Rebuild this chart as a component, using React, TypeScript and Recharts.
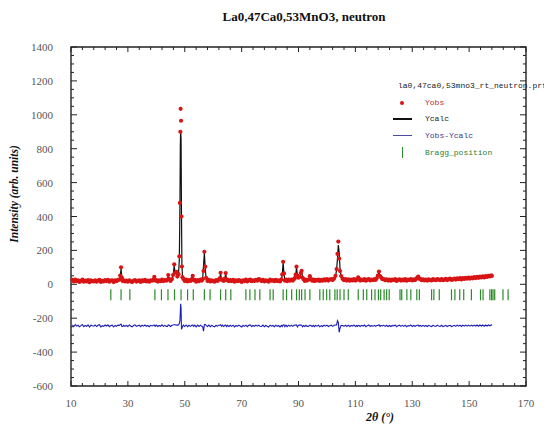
import { ComposedChart, Line, Scatter, XAxis, YAxis, ReferenceArea } from 'recharts';

// 2θ scan points (deg) with observed / calculated neutron counts
const twoTheta = [
  10.5, 11, 11.5, 12, 12.5, 13, 13.5, 14, 14.5, 15,
  15.5, 16, 16.5, 17, 17.5, 18, 18.5, 19, 19.5, 20,
  20.5, 21, 21.5, 22, 22.5, 23, 23.5, 24, 24.5, 25,
  25.5, 26, 26.5, 27, 27.3, 27.6, 27.9, 28.2, 28.5, 29,
  29.5, 30, 30.5, 31, 31.5, 32, 32.5, 33, 33.5, 34,
  34.5, 35, 35.5, 36, 36.5, 37, 37.5, 38, 38.5, 39,
  39.3, 39.6, 40, 40.5, 41, 41.5, 42, 42.5, 43, 43.5,
  43.9, 44.2, 44.5, 45, 45.5, 45.9, 46.3, 46.6, 47.1, 47.4,
  47.8, 48.1, 48.3, 48.45, 48.55, 48.7, 48.85, 49, 49.2, 49.5,
  50, 50.5, 51, 51.5, 52, 52.5, 52.8, 53.1, 53.5, 54,
  54.5, 55, 55.5, 56, 56.3, 56.6, 56.9, 57.2, 57.5, 58,
  58.5, 59, 59.5, 60, 60.5, 61, 61.5, 62, 62.3, 62.6,
  62.9, 63.3, 63.7, 64.1, 64.4, 64.7, 65, 65.5, 66, 66.5,
  67, 67.5, 68, 68.5, 69, 69.5, 70, 70.5, 71, 71.5,
  72, 72.5, 73, 73.5, 74, 74.5, 75, 75.5, 76, 76.4,
  77, 77.5, 78, 78.5, 79, 79.5, 80, 80.5, 81, 81.5,
  82, 82.5, 83, 83.5, 84, 84.3, 84.6, 84.9, 85.2, 85.6,
  86, 86.5, 87, 87.5, 88, 88.4, 88.7, 89, 89.3, 89.6,
  90, 90.4, 90.8, 91.1, 91.4, 91.8, 92.2, 92.6, 93, 93.6,
  94, 94.4, 94.8, 95.2, 95.6, 96, 96.5, 97, 97.5, 98,
  98.5, 99, 99.5, 100, 100.5, 101, 101.5, 102, 102.5, 103,
  103.4, 103.7, 104, 104.3, 104.6, 105, 105.5, 106, 106.5, 107,
  107.5, 108, 108.5, 109, 109.5, 110, 110.4, 110.7, 111, 111.3,
  111.7, 112.2, 112.7, 113.2, 113.7, 114.2, 114.7, 115.2, 115.7, 116.2,
  116.7, 117.1, 117.5, 117.9, 118.3, 118.7, 119.1, 119.5, 120, 120.5,
  121, 121.5, 122, 122.5, 123, 123.5, 124, 124.5, 125, 125.5,
  126, 126.5, 127, 127.5, 128, 128.5, 129, 129.5, 130, 130.5,
  131, 131.5, 131.8, 132.1, 132.4, 132.8, 133.3, 133.8, 134.3, 134.8,
  135.3, 135.8, 136.3, 136.8, 137.3, 137.8, 138.3, 138.8, 139.3, 139.8,
  140.3, 140.8, 141.3, 141.8, 142.3, 142.8, 143.3, 143.8, 144.3, 144.8,
  145.3, 145.8, 146.3, 146.8, 147.3, 147.8, 148.3, 148.8, 149.3, 149.8,
  150.3, 150.8, 151.3, 151.8, 152.3, 152.8, 153.3, 153.8, 154.3, 154.8,
  155.3, 155.8, 156.3, 156.8, 157.3, 157.8, 158.0,
];

const yCalc = [
  21, 21, 21, 20, 20, 20, 20, 20, 20, 20,
  20, 19, 19, 19, 19, 19, 19, 19, 19, 19,
  20, 20, 20, 20, 20, 20, 20, 20, 20, 20,
  21, 21, 22, 24, 45, 90, 42, 23, 21, 20,
  20, 19, 19, 19, 19, 19, 19, 19, 19, 19,
  19, 20, 20, 21, 20, 20, 20, 21, 22, 25,
  40, 25, 21, 20, 21, 21, 21, 22, 22, 24,
  30, 50, 28, 24, 28, 50, 112, 62, 70, 42,
  55, 150, 450, 820, 905, 860, 420, 120, 48, 28,
  23, 22, 22, 22, 23, 28, 46, 27, 22, 21,
  21, 22, 23, 25, 35, 110, 185, 95, 35, 24,
  22, 22, 21, 21, 21, 22, 22, 24, 32, 62,
  30, 24, 24, 30, 62, 30, 24, 22, 22, 22,
  22, 21, 21, 21, 21, 21, 21, 21, 22, 23,
  22, 22, 23, 22, 22, 23, 22, 23, 27, 29,
  23, 22, 22, 22, 22, 22, 23, 23, 23, 23,
  22, 22, 22, 23, 26, 62, 128, 58, 27, 23,
  23, 23, 24, 24, 25, 27, 32, 52, 98, 58,
  36, 40, 62, 77, 46, 28, 24, 24, 25, 30,
  45, 29, 25, 24, 24, 24, 24, 24, 25, 25,
  25, 25, 25, 26, 26, 27, 27, 28, 31, 45,
  85, 150, 232, 190, 92, 46, 31, 27, 26, 26,
  25, 25, 25, 25, 25, 26, 27, 31, 38, 29,
  26, 25, 25, 25, 26, 26, 26, 26, 27, 27,
  28, 29, 33, 50, 69, 52, 37, 31, 28, 27,
  26, 26, 26, 25, 25, 25, 25, 25, 25, 25,
  25, 25, 26, 26, 26, 26, 26, 26, 27, 27,
  28, 31, 36, 41, 36, 30, 27, 26, 26, 26,
  26, 26, 26, 27, 27, 27, 27, 27, 28, 28,
  28, 28, 28, 29, 29, 29, 30, 30, 30, 31,
  31, 31, 32, 32, 33, 33, 34, 34, 35, 35,
  36, 36, 37, 38, 38, 39, 40, 40, 41, 42,
  42, 43, 44, 45, 46, 47, 47,
];

const yObs = [
  26, 17, 28, 18, 23, 14, 21, 28, 15, 22,
  17, 25, 12, 23, 19, 17, 24, 15, 22, 26,
  14, 21, 17, 25, 19, 26, 15, 22, 24, 13,
  23, 18, 26, 27, 52, 100, 38, 19, 24, 17,
  22, 15, 24, 18, 13, 21, 25, 16, 20, 23,
  14, 24, 18, 26, 17, 22, 15, 24, 21, 28,
  44, 22, 25, 16, 23, 18, 27, 19, 25, 21,
  27, 55, 31, 20, 31, 55, 118, 68, 74, 46,
  60, 165, 480, 900, 1035, 965, 400, 105, 42, 32,
  19, 27, 17, 25, 20, 31, 50, 24, 26, 15,
  25, 18, 27, 22, 30, 78, 192, 104, 38, 20,
  26, 17, 24, 19, 15, 25, 20, 27, 35, 68,
  27, 28, 20, 33, 66, 26, 27, 18, 25, 19,
  26, 15, 23, 18, 25, 20, 14, 24, 19, 27,
  17, 25, 28, 18, 24, 20, 26, 21, 31, 27,
  19, 26, 17, 24, 20, 15, 27, 21, 25, 18,
  26, 19, 24, 17, 29, 58, 133, 64, 22, 27,
  18, 27, 21, 28, 22, 30, 36, 57, 104, 52,
  39, 44, 66, 80, 40, 30, 20, 27, 22, 28,
  48, 31, 21, 27, 19, 26, 22, 28, 20, 26,
  21, 29, 23, 30, 22, 28, 31, 25, 34, 50,
  90, 180, 252, 152, 78, 49, 33, 24, 30, 22,
  29, 21, 27, 23, 30, 22, 29, 28, 41, 31,
  22, 28, 24, 30, 21, 27, 31, 23, 28, 25,
  31, 26, 35, 52, 75, 49, 40, 30, 31, 24,
  29, 22, 28, 21, 27, 24, 30, 20, 26, 29,
  22, 28, 23, 30, 21, 27, 25, 31, 23, 29,
  25, 33, 39, 45, 34, 32, 24, 29, 23, 28,
  22, 29, 25, 23, 30, 26, 24, 31, 27, 25,
  31, 24, 27, 32, 25, 30, 33, 26, 29, 34,
  28, 35, 30, 36, 29, 37, 32, 38, 33, 39,
  34, 40, 35, 42, 37, 44, 38, 45, 40, 47,
  40, 48, 43, 50, 46, 53, 49,
];

// reflection positions (deg)
const braggPositions = [
  24.0, 27.6, 30.7, 39.5, 41.8, 44.1, 46.4, 48.7, 51.0, 53.0,
  56.9, 58.9, 62.6, 64.4, 66.2, 71.5, 72.9, 74.7, 76.4, 80.0,
  81.1, 84.6, 85.8, 87.6, 89.3, 90.3, 91.1, 92.3, 94.0, 97.5,
  98.7, 99.9, 101.0, 102.8, 103.6, 104.6, 106.0, 107.5, 111.0, 112.8,
  114.0, 115.7, 116.9, 118.1, 118.9, 120.1, 121.0, 121.9, 125.7, 126.3,
  128.1, 129.5, 131.6, 132.5, 136.8, 137.6, 139.5, 143.8, 145.0, 146.7,
  148.1, 150.8, 154.0, 154.9, 157.3, 157.9, 158.4, 159.0, 161.9, 163.7,
];

const diffOffset = -245;
const braggLevel = -62;

const xTicks = [
  10, 14, 18, 22, 26, 30, 34, 38, 42, 46, 50, 54, 58, 62, 66, 70, 74, 78, 82, 86,
  90, 94, 98, 102, 106, 110, 114, 118, 122, 126, 130, 134, 138, 142, 146, 150, 154, 158, 162, 166, 170,
];
const yTicks = [
  -600, -550, -500, -450, -400, -350, -300, -250, -200, -150, -100, -50,
  0, 50, 100, 150, 200, 250, 300, 350, 400, 450, 500, 550, 600, 650, 700, 750,
  800, 850, 900, 950, 1000, 1050, 1100, 1150, 1200, 1250, 1300, 1350, 1400,
];

const profile = twoTheta.map((x, i) => ({
  x,
  obs: yObs[i],
  calc: yCalc[i],
  diff: yObs[i] - yCalc[i] + diffOffset,
}));
const bragg = braggPositions.map((x) => ({ x, y: braggLevel }));

const W = 544;
const H = 418;
const margin = { top: 39, right: 26, bottom: 10, left: 0 };
const Y_AXIS_W = 63;
const X_AXIS_H = 30;
const PLOT_W = W - margin.left - margin.right - Y_AXIS_W;
const PLOT_H = H - margin.top - margin.bottom - X_AXIS_H;

const tickFont = { fontFamily: '"Liberation Serif", serif', fontSize: 11, fill: '#555' };

function XTick({ x, y, payload }: any) {
  const v = payload.value;
  const labeled = (v - 10) % 20 === 0;
  const len = labeled ? 5 : 3;
  return (
    <g>
      <line x1={x} x2={x} y1={y} y2={y - len} stroke="#222" />
      <line x1={x} x2={x} y1={y - PLOT_H} y2={y - PLOT_H + len} stroke="#222" />
      {labeled && (
        <text x={x} y={y + 21} textAnchor="middle" {...tickFont}>
          {v}
        </text>
      )}
    </g>
  );
}

function YTick({ x, y, payload }: any) {
  const v = payload.value;
  const labeled = v % 200 === 0;
  const len = labeled ? 6 : 3;
  return (
    <g>
      <line x1={x} x2={x + len} y1={y} y2={y} stroke="#222" />
      <line x1={x + PLOT_W} x2={x + PLOT_W - len} y1={y} y2={y} stroke="#222" />
      {labeled && (
        <text x={x - 18} y={y + 4} textAnchor="end" {...tickFont}>
          {v}
        </text>
      )}
    </g>
  );
}

const obsDot = (p: any) => <circle cx={p.cx} cy={p.cy} r={2.1} fill="#d81414" />;
const braggTick = (p: any) => (
  <line x1={p.cx} x2={p.cx} y1={p.cy - 5.5} y2={p.cy + 5.5} stroke="#2b8a2b" strokeWidth={1.2} />
);

const mono = { fontFamily: '"Liberation Mono", "DejaVu Sans Mono", monospace', fontSize: 8 };

export default function App() {
  return (
    <div style={{ position: 'relative', width: W, height: H, fontFamily: '"Liberation Serif", serif' }}>
      <div
        style={{
          position: 'absolute', left: 146, width: 300, top: 1, textAlign: 'center',
          fontWeight: 'bold', fontSize: 13, color: '#111',
        }}
      >
        La0,47Ca0,53MnO3, neutron
      </div>

      <ComposedChart width={W} height={H} data={profile} margin={margin}>
        <XAxis
          dataKey="x"
          type="number"
          domain={[10, 170]}
          ticks={xTicks}
          interval={0}
          axisLine={false}
          tickLine={false}
          tickSize={0}
          tickMargin={0}
          height={X_AXIS_H}
          tick={<XTick />}
        />
        <YAxis
          type="number"
          domain={[-600, 1400]}
          ticks={yTicks}
          interval={0}
          axisLine={false}
          tickLine={false}
          tickSize={0}
          tickMargin={0}
          width={Y_AXIS_W}
          tick={<YTick />}
        />
        <ReferenceArea x1={10} x2={170} y1={-600} y2={1400} fill="none" stroke="#222" strokeWidth={1.4} ifOverflow="visible" />
        <Scatter dataKey="obs" shape={obsDot} isAnimationActive={false} />
        <Line dataKey="calc" stroke="#111" strokeWidth={1.2} dot={false} isAnimationActive={false} />
        <Line dataKey="diff" stroke="#1c1cb4" strokeWidth={1.1} dot={false} isAnimationActive={false} />
        <Scatter data={bragg} dataKey="y" shape={braggTick} isAnimationActive={false} />
      </ComposedChart>

      <div
        style={{
          position: 'absolute', left: -94, top: 180, width: 200, textAlign: 'center',
          transform: 'rotate(-90deg)', fontWeight: 'bold', fontStyle: 'italic', fontSize: 11.5, color: '#111',
        }}
      >
        Intensity (arb. units)
      </div>
      <div
        style={{
          position: 'absolute', left: 322, top: 402, width: 100, textAlign: 'center',
          fontWeight: 'bold', fontStyle: 'italic', fontSize: 12, color: '#111',
        }}
      >
        2θ (°)
      </div>

      <div style={{ position: 'absolute', left: 390, top: 73, whiteSpace: 'nowrap', color: '#222', ...mono }}>
        la0,47ca0,53mno3_rt_neutron.prf
      </div>
      <div style={{ position: 'absolute', left: 392, top: 93, width: 4, height: 4, borderRadius: 2, background: '#d81414' }} />
      <div style={{ position: 'absolute', left: 417, top: 90, color: '#c02a2a', ...mono }}>Yobs</div>
      <div style={{ position: 'absolute', left: 385, top: 110, width: 19, height: 1.5, background: '#111' }} />
      <div style={{ position: 'absolute', left: 417, top: 106, color: '#222', ...mono }}>Ycalc</div>
      <div style={{ position: 'absolute', left: 385, top: 127, width: 19, height: 1, background: '#4a4aa8' }} />
      <div style={{ position: 'absolute', left: 417, top: 123, color: '#3a3a90', ...mono }}>Yobs-Ycalc</div>
      <div style={{ position: 'absolute', left: 394, top: 139, width: 1.2, height: 11, background: '#2b8a2b' }} />
      <div style={{ position: 'absolute', left: 417, top: 140, color: '#2e7d32', ...mono }}>Bragg_position</div>
    </div>
  );
}
